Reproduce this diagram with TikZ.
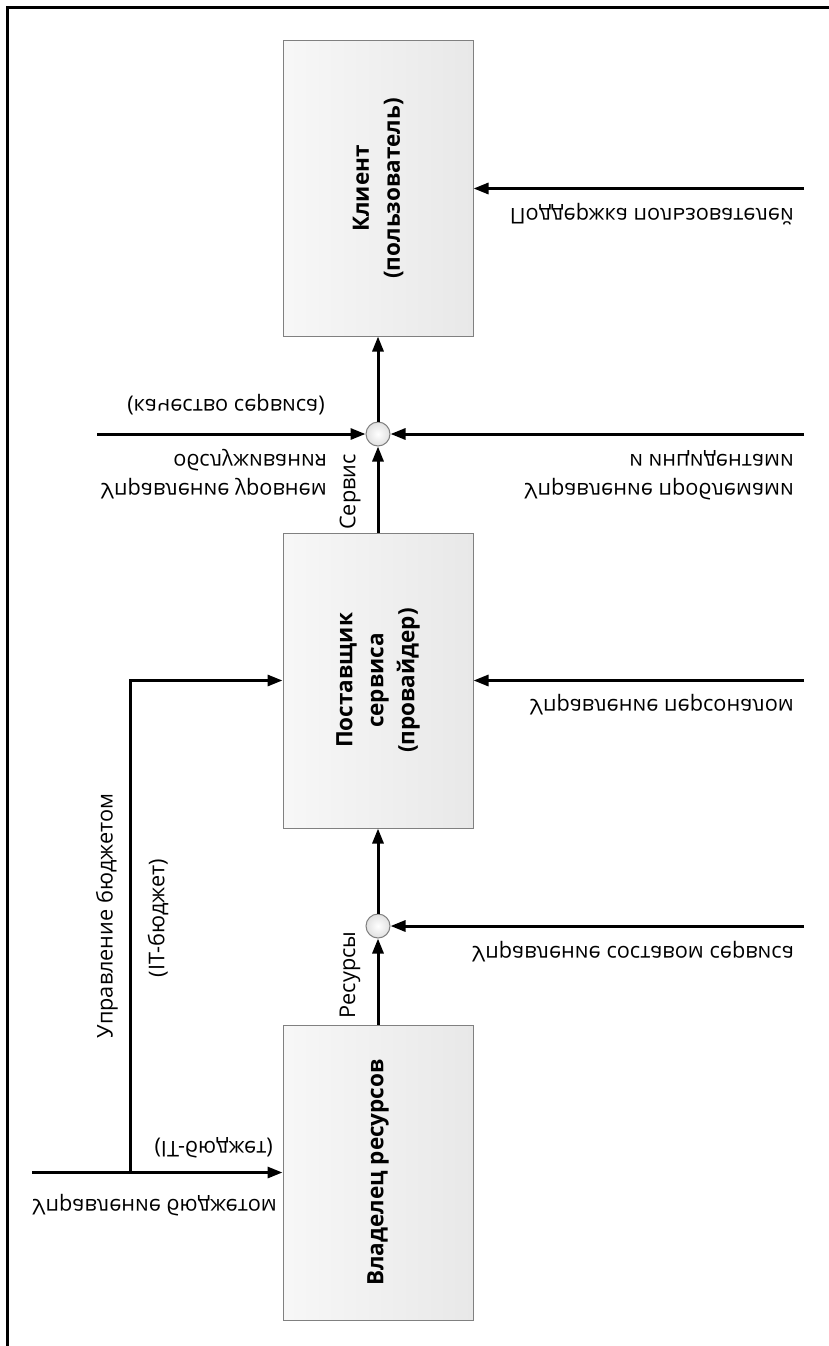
\documentclass[tikz,border=0pt]{standalone}
\usepackage{fontspec}
\setmainfont{Open Sans}
\usetikzlibrary{arrows.meta,shadings}
\tikzset{
  box/.style={draw=black!50, line width=1pt, left color=black!3, right color=black!9,
    minimum width=190pt, minimum height=295pt, inner sep=0pt},
  junc/.style={circle, draw=black!50, line width=1pt, inner color=white, outer color=black!12,
    minimum size=24pt, inner sep=0pt},
  flow/.style={line width=3pt, -{Triangle[length=15pt,width=11pt]}},
  boxtxt/.style={rotate=90, font=\fontsize{22.5}{31}\selectfont\bfseries, align=center},
  rtxt/.style={rotate=90, font=\fontsize{21.7}{30}\selectfont},
  ftxt/.style={font=\fontsize{21.7}{29}\selectfont, inner sep=0pt},
  frame/.style={line width=3pt}
}
\newcommand{\flip}[1]{\scalebox{1}[-1]{#1}}
\newcommand{\flipr}[1]{\scalebox{1}[-1]{\begin{tabular}{@{}r@{}}#1\end{tabular}}}
\begin{document}
\begin{tikzpicture}[x=1pt,y=-1pt]
\useasboundingbox (0,0) rectangle (829,1346);
\fill[white] (0,0) rectangle (829,1346);
\draw[frame] (7,1350) -- (7,8) -- (835,8);

% boxes
\node[box] (client) at (378,188.5) {};
\node[box] (provider) at (378,680.5) {};
\node[box] (owner) at (378,1172.5) {};
\node[boxtxt] (clientlbl) at (client.center) {Клиент\\(пользователь)};
\node[boxtxt] (providerlbl) at (provider.center) {Поставщик\\сервиса\\(провайдер)};
\node[boxtxt] (ownerlbl) at (owner.center) {Владелец ресурсов};

% junctions
\node[junc] (j2) at (378,434) {};
\node[junc] (j1) at (378,926) {};

% free ends
\coordinate (slaS) at (97,434);
\coordinate (probS) at (804,434);
\coordinate (suppS) at (804,188.5);
\coordinate (persS) at (804,680.5);
\coordinate (compS) at (804,926);
\coordinate (budS) at (32,1172.5);
\coordinate (budB) at (130,1172.5);

% connectors
\draw[flow] (owner.north) -- (j1.south);
\draw[flow] (j1.north) -- (provider.south);
\draw[flow] (provider.north) -- (j2.south);
\draw[flow] (j2.north) -- (client.south);
\draw[flow] (slaS) -- (j2.west);
\draw[flow] (probS) -- (j2.east);
\draw[flow] (suppS) -- (client.east);
\draw[flow] (persS) -- (provider.east);
\draw[flow] (compS) -- (j1.east);
\draw[flow] (budS) -- (owner.west);
\draw[flow] (budB) |- (provider.west);

% labels
\node[ftxt, anchor=east] (suppL) at (794,214) {\flip{Поддержка пользователей}};
\node[ftxt] (qosL) at (226,405) {\flip{(качество сервиса)}};
\node[ftxt, anchor=east] (slaL) at (327,475) {\flipr{Управление уровнем\\обслуживания}};
\node[rtxt] (servL) at (350,492) {Сервис};
\node[ftxt, anchor=east] (probL) at (794,475) {\flipr{Управление проблемами\\и инцидентами}};
\node[ftxt, anchor=east] (persL) at (794,705) {\flip{Управление персоналом}};
\node[ftxt, anchor=east] (compL) at (794,952) {\flip{Управление составом сервиса}};
\node[rtxt] (resL) at (350,975) {Ресурсы};
\node[rtxt] (budV) at (107,916) {Управление бюджетом};
\node[rtxt] (itV) at (158,918) {(IT-бюджет)};
\node[ftxt, anchor=east] (itH) at (273,1148) {\flip{(IT-бюджет)}};
\node[ftxt, anchor=east] (budH) at (277,1205) {\flip{Управление бюджетом}};
\end{tikzpicture}
\end{document}
